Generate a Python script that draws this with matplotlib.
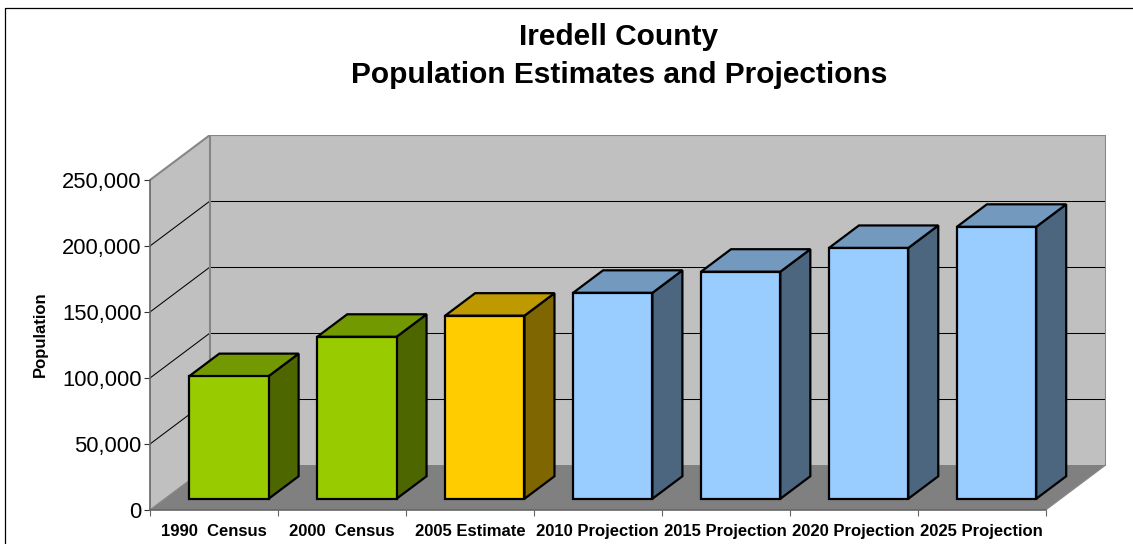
"""Iredell County population chart, drawn as an Excel style 3D column chart."""

import matplotlib

matplotlib.use("Agg")
import matplotlib.pyplot as plt
from matplotlib.lines import Line2D
from matplotlib.ticker import FuncFormatter

categories = ["1990  Census", "2000  Census", "2005 Estimate", "2010 Projection",
              "2015 Projection", "2020 Projection", "2025 Projection"]
population = [92900, 122700, 138700, 156000, 172000, 190000, 206000]
kinds = ["census", "census", "estimate", "projection", "projection", "projection", "projection"]
y_ticks = [0, 50000, 100000, 150000, 200000, 250000]

# front, top, side colour of a bar
COLORS = {
    "census": ("#99CC00", "#739900", "#4D6600"),
    "estimate": ("#FFCC00", "#BF9900", "#806600"),
    "projection": ("#99CCFF", "#7399BF", "#4D6680"),
}

W, H = 1133, 544
FRONT_L, FRONT_R, FRONT_B, FRONT_T = 150, 1045.5, 510, 180
SHIFT_X, SHIFT_Y = 60, 45  # depth of the box, pixels

slot_px = (FRONT_R - FRONT_L) / len(categories)
per_px = 250000 / (FRONT_B - FRONT_T)
dx = SHIFT_X / slot_px
dy = SHIFT_Y * per_px
GAP = 0.19  # space each side of a bar, part of a slot

plt.rcParams["font.family"] = ["Liberation Sans", "DejaVu Sans"]

fig = plt.figure(figsize=(W / 100, H / 100), dpi=100)
fig.patch.set_facecolor("white")
ax = fig.add_axes([FRONT_L / W, 1 - FRONT_B / H,
                   (FRONT_R + SHIFT_X - FRONT_L) / W, (FRONT_B - FRONT_T + SHIFT_Y) / H])
ax.set_xlim(0, len(categories) + dx)
ax.set_ylim(0, 250000 + dy)
ax.patch.set_visible(False)

n = len(categories)
top = y_ticks[-1]
wall = "#C0C0C0"
edge = "#868686"

# walls and floor
ax.fill([dx, n + dx, n + dx, dx], [dy, dy, top + dy, top + dy], color=wall, lw=0, zorder=1)
ax.fill([0, dx, dx, 0], [0, dy, top + dy, top], color=wall, lw=0, zorder=1)
ax.fill([0, n, n + dx, dx], [0, 0, dy, dy], color="#808080", lw=0, zorder=1)

# grid lines on side and back wall, the back part alone so it stays sharp
for t in y_ticks[1:-1]:
    ax.plot([0, dx], [t, t + dy], color="black", lw=0.75, zorder=2)
    ax.plot([dx, n + dx], [t + dy, t + dy], color="black", lw=0.75, zorder=2)

# wall outline
ax.plot([0, dx], [top, top + dy], color=edge, lw=1.5, zorder=2)
ax.plot([dx, n + dx, n + dx], [top + dy, top + dy, dy], color=edge, lw=1.5, zorder=2)
ax.plot([n + dx, n], [dy, 0], color=edge, lw=1, zorder=2)
ax.plot([dx, dx], [dy, top + dy], color=edge, lw=1.5, zorder=2)
ax.plot([0, dx], [0, dy], color=edge, lw=1, zorder=2)

# bars: they stand in the middle half of the depth
for i, (val, kind) in enumerate(zip(population, kinds)):
    front, top_c, side = COLORS[kind]
    x0 = i + GAP + dx / 4
    x1 = i + 1 - GAP + dx / 4
    y0 = dy / 4
    y1 = val + dy / 4
    bx = dx / 2
    by = dy / 2
    style = dict(edgecolor="black", lw=1.6, joinstyle="miter", zorder=3 + i)
    ax.fill([x1, x1 + bx, x1 + bx, x1], [y0, y0 + by, y1 + by, y1], facecolor=side, **style)
    ax.fill([x0, x1, x1 + bx, x0 + bx], [y1, y1, y1 + by, y1 + by], facecolor=top_c, **style)
    ax.fill([x0, x1, x1, x0], [y0, y0, y1, y1], facecolor=front, **style)

# axes
for name in ("top", "right"):
    ax.spines[name].set_visible(False)
ax.spines["left"].set_bounds(0, top)
ax.spines["bottom"].set_bounds(0, n)
for name in ("left", "bottom"):
    ax.spines[name].set_color("#666666")
    ax.spines[name].set_linewidth(1.2)
    ax.spines[name].set_zorder(20)

ax.set_yticks(y_ticks)
ax.yaxis.set_major_formatter(FuncFormatter(lambda v, _: f"{int(v):,}"))
ax.tick_params(axis="y", length=4, width=0.8, color="#333333", labelsize=15.8, pad=2)
ax.set_xticks(range(n + 1))
ax.set_xticklabels([])
ax.tick_params(axis="x", which="major", length=4, width=0.8, color="#666666")
ax.set_xticks([i + 0.5 for i in range(n)], minor=True)
ax.set_xticklabels(categories, minor=True, fontweight="bold", fontsize=12)
ax.tick_params(axis="x", which="minor", length=0, pad=10)

fig.text(40.5 / W, 1 - 334 / H, "Population", rotation=90, ha="center", va="center",
         fontweight="bold", fontsize=12)
fig.text(619 / W, 1 - 37 / H, "Iredell County", ha="center", va="center",
         fontweight="bold", fontsize=21.5)
fig.text(619 / W, 1 - 75 / H, "Population Estimates and Projections", ha="center", va="center",
         fontweight="bold", fontsize=21.5)

# chart border, only top and left fall inside the picture
fig.add_artist(Line2D([4.5 / W, 4.5 / W, 1], [0, 1 - 7.5 / H, 1 - 7.5 / H], color="black", lw=0.9))

fig.savefig("out.png", dpi=100)
